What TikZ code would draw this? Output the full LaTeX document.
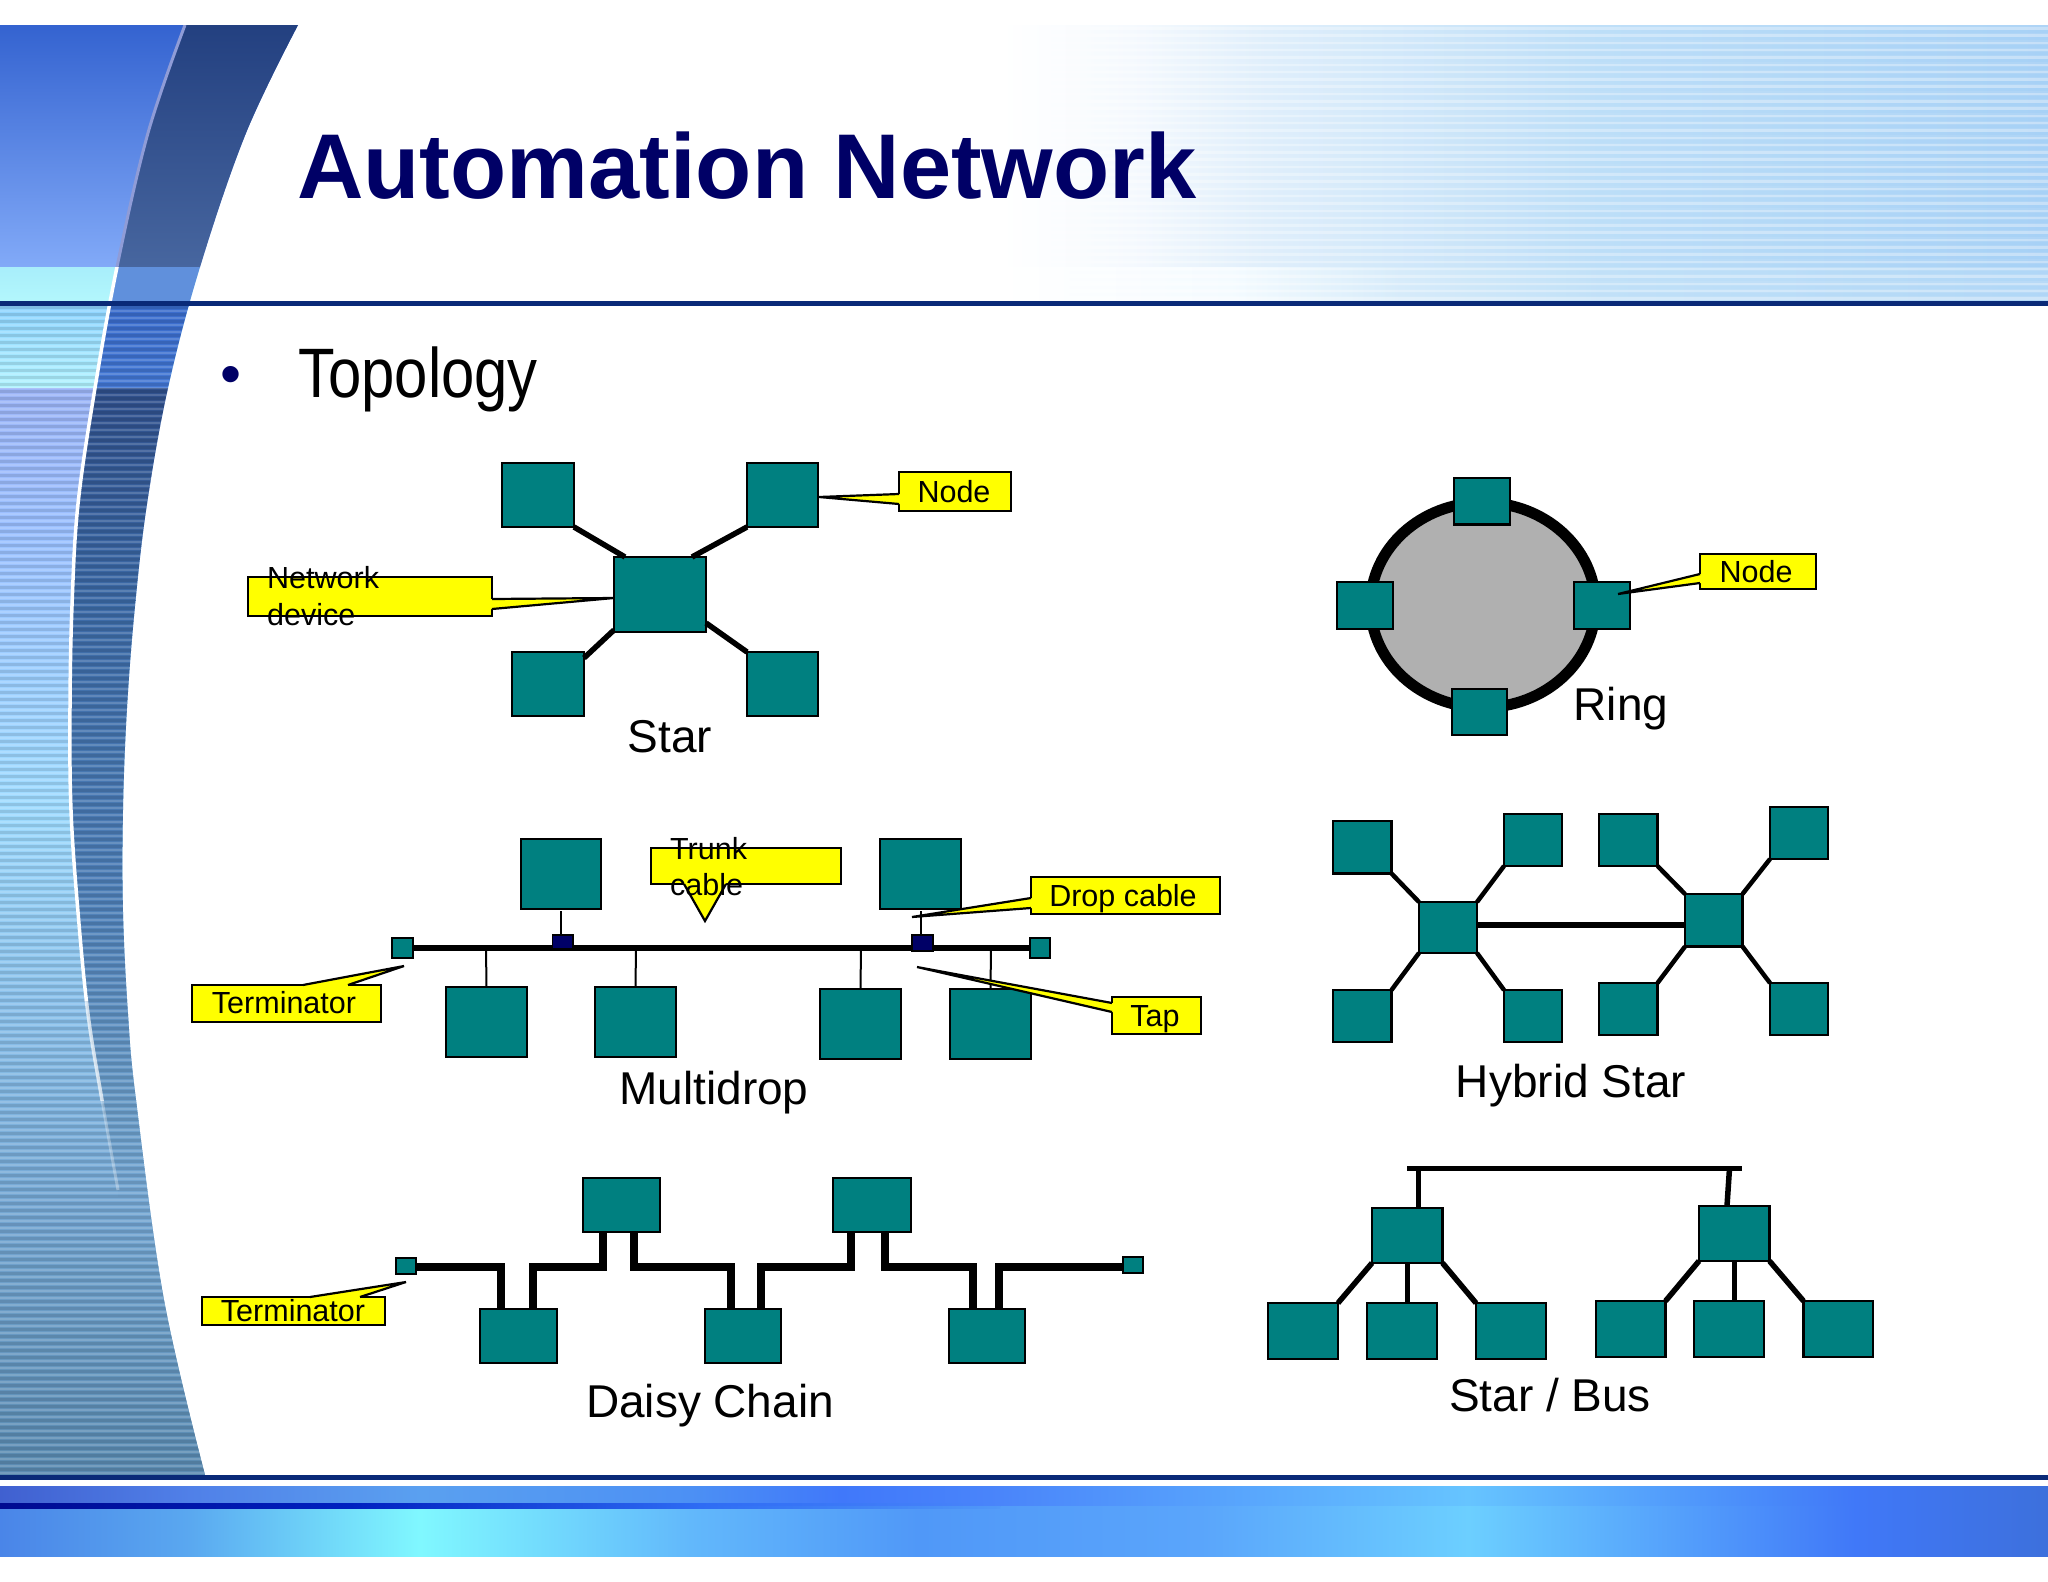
\documentclass[tikz,border=0pt]{standalone}
\usepackage{fontspec}
\setmainfont{Liberation Sans}
\usetikzlibrary{calc,shapes.geometric}
\definecolor{teal1}{HTML}{008080}
\definecolor{navy1}{HTML}{000066}
\definecolor{rule1}{HTML}{0A2A78}
\definecolor{yel}{HTML}{FFFF00}
\tikzset{
  box/.style={draw=black,fill=teal1,line width=2.5pt,inner sep=0pt,outer sep=0pt},
  tapbox/.style={box,fill=navy1},
  callbox/.style={draw=black,fill=yel,line width=2.5pt,inner sep=0pt,outer sep=0pt},
  callline/.style={draw=black,line width=2.2pt,line join=miter},
  link/.style={draw=black,line width=5.5pt},
  hlink/.style={draw=black,line width=4.5pt},
  drop/.style={draw=black,line width=2pt},
  chain/.style={draw=black,line width=8pt,line join=miter},
  caption/.style={anchor=base,inner sep=0pt,font=\fontsize{46}{50}\selectfont},
  calltext/.style={anchor=base,inner sep=0pt,font=\fontsize{30.5}{36}\selectfont},
}
\newcommand{\tbox}[6][box]{\node[#1,minimum width={(#5-#3)*1pt},minimum height={(#6-#4)*1pt}] (#2) at ({(#3+#5)/2},{(#4+#6)/2}) {};}
\newcommand{\vs}[6]{\shade[top color=#5,bottom color=#6] (#1,#2) rectangle (#3,#4);}
\newcommand{\hsh}[6]{\shade[left color=#5,right color=#6] (#1,#2) rectangle (#3,#4);}
\newcommand{\callptr}[5]{%
  \coordinate (#1a) at (#2); \coordinate (#1t) at (#3); \coordinate (#1b) at (#4);
  \fill[yel] (#1a) -- (#1t) -- (#1b) -- ($(#1b)+(#5)$) -- ($(#1a)+(#5)$) -- cycle;
  \draw[callline] (#1a) -- (#1t) -- (#1b);}
\def\outerpts{(298,25) (246,133) (200,267) (168,388) (147,504) (135,606) (127,708) (123,810) (123,912) (128,1014) (136,1100) (164,1300) (205,1475)}
\def\innerpts{(185,25) (148,133) (117,267) (95,388) (78,504) (72,606) (70,708) (71,810) (78,912) (88,1014) (102,1100) (118,1190)}
\begin{document}
\begin{tikzpicture}[x=1pt,y=-1pt]
\useasboundingbox (0,0) rectangle (2048,1582);
\fill[white] (0,0) rectangle (2048,1582);
% --- header band
\definecolor{h1}{HTML}{F6FAFE}\definecolor{h2}{HTML}{E0EFFB}\definecolor{h3}{HTML}{BFDFF8}\definecolor{h4}{HTML}{AED4F6}
\definecolor{k1}{HTML}{F6FCFF}\definecolor{k2}{HTML}{D8ECFA}\definecolor{k3}{HTML}{C4E2F8}\definecolor{k4}{HTML}{B8DAF7}
\hsh{1000}{25}{1130}{268}{white}{h1}
\hsh{1130}{25}{1267}{268}{h1}{h2}
\hsh{1267}{25}{1600}{268}{h2}{h3}
\hsh{1600}{25}{2048}{268}{h3}{h4}
\hsh{1000}{267}{1230}{301}{white}{k1}
\hsh{1230}{267}{1400}{301}{k1}{k2}
\hsh{1400}{267}{1600}{301}{k2}{k3}
\hsh{1600}{267}{2048}{301}{k3}{k4}
\foreach \y in {27,34.3,...,298} {
  \fill[white,opacity=.3] (1000,\y) rectangle (2048,\y+2.5);
  \shade[left color=white,right color=blue!45!cyan!70!white,opacity=.07] (1050,\y+3.5) rectangle (2048,\y+5.5);
}
% --- left swoosh
\begin{scope}
  \clip plot[smooth,tension=.6] coordinates {\outerpts} -- (0,1475) -- (0,25) -- cycle;
  \definecolor{a1}{HTML}{3463D0}\definecolor{a2}{HTML}{82AAF8}
  \definecolor{a3}{HTML}{A8EEFB}\definecolor{a4}{HTML}{B4F8FC}
  \definecolor{a5}{HTML}{8ED4FF}\definecolor{a6}{HTML}{B4F4FF}
  \definecolor{a7}{HTML}{9EB6F8}\definecolor{a8}{HTML}{9CC0FF}
  \definecolor{a9}{HTML}{A0DCFF}\definecolor{a10}{HTML}{8CC2EC}
  \definecolor{a11}{HTML}{76A8D4}\definecolor{a12}{HTML}{5A8AB0}
  \vs{0}{25}{320}{267.5}{a1}{a2}
  \vs{0}{267}{320}{306}{a3}{a4}
  \vs{0}{306}{320}{388.5}{a5}{a6}
  \vs{0}{388}{320}{520.5}{a7}{a8}
  \vs{0}{520}{320}{800.5}{a8}{a9}
  \vs{0}{800}{320}{1000.5}{a9}{a10}
  \vs{0}{1000}{320}{1200.5}{a10}{a11}
  \vs{0}{1200}{320}{1476}{a11}{a12}
  \begin{scope}
    \clip plot[smooth,tension=.6] coordinates {\innerpts} -- (118,1476) -- (500,1476) -- (500,25) -- cycle;
    \definecolor{d1}{HTML}{234080}\definecolor{d2}{HTML}{47669F}
    \definecolor{d3}{HTML}{6090DC}
    \definecolor{d4}{HTML}{3A6CCC}\definecolor{d5}{HTML}{4478D4}
    \definecolor{d6}{HTML}{30508C}\definecolor{d7}{HTML}{3C6AA6}
    \definecolor{d8}{HTML}{4F80B8}\definecolor{d9}{HTML}{6A9CC8}
    \vs{0}{25}{320}{267.5}{d1}{d2}
    \vs{0}{267}{320}{306}{d3}{d3}
    \vs{0}{306}{320}{388.5}{d4}{d5}
    \vs{0}{388}{320}{600.5}{d6}{d7}
    \vs{0}{600}{320}{900.5}{d7}{d8}
    \vs{0}{900}{320}{1100.5}{d8}{d9}
    \vs{0}{1100}{320}{1200.5}{d9}{a11}
    \vs{0}{1200}{320}{1476}{a11}{a12}
  \end{scope}
  \foreach \y in {306,313,...,1475} {
    \fill[black,opacity=.11] (0,\y) rectangle (320,\y+3);
    \fill[white,opacity=.16] (0,\y+4) rectangle (320,\y+5.5);
  }
  \begin{scope}
    \clip (0,25) rectangle (320,267);
    \draw[line width=3pt,color=cyan!30!blue!45!white] plot[smooth,tension=.6] coordinates {\innerpts};
  \end{scope}
  \begin{scope}
    \clip (0,267) rectangle (320,1000);
    \draw[line width=3.5pt,color=white] plot[smooth,tension=.6] coordinates {\innerpts};
  \end{scope}
  \begin{scope}
    \clip (0,1000) rectangle (320,1100);
    \draw[line width=3.5pt,color=white,opacity=.7] plot[smooth,tension=.6] coordinates {\innerpts};
  \end{scope}
  \begin{scope}
    \clip (0,1100) rectangle (320,1190);
    \draw[line width=3pt,color=white,opacity=.3] plot[smooth,tension=.6] coordinates {\innerpts};
  \end{scope}
\end{scope}
% --- rules
\fill[rule1] (0,301) rectangle (2048,306);
\fill[rule1] (0,1475) rectangle (2048,1480);
% --- footer band
\definecolor{u0}{HTML}{4060D0}\definecolor{u1}{HTML}{5080E8}\definecolor{u2}{HTML}{5AA0F0}
\definecolor{u3}{HTML}{4C90F4}\definecolor{u4}{HTML}{4078FA}\definecolor{u5}{HTML}{4A85FA}
\definecolor{u6}{HTML}{66C4FF}\definecolor{u7}{HTML}{4078F8}\definecolor{u8}{HTML}{3D70DC}
\hsh{0}{1486}{190.5}{1506}{u0}{u1}
\hsh{190}{1486}{420.5}{1506}{u1}{u2}
\hsh{420}{1486}{690.5}{1506}{u2}{u3}
\hsh{690}{1486}{840.5}{1506}{u3}{u4}
\hsh{840}{1486}{1000.5}{1506}{u4}{u5}
\hsh{1000}{1486}{1468.5}{1506}{u5}{u6}
\hsh{1468}{1486}{1855.5}{1506}{u6}{u7}
\hsh{1855}{1486}{2048}{1506}{u7}{u8}
\definecolor{l0}{HTML}{4A85E8}\definecolor{l1}{HTML}{5AA8F0}\definecolor{l2}{HTML}{80F8FF}
\definecolor{l3}{HTML}{62B8FB}\definecolor{l4}{HTML}{5098F8}\definecolor{l5}{HTML}{5AA5FB}
\definecolor{l6}{HTML}{6CCFFF}
\hsh{0}{1506}{190.5}{1556}{l0}{l1}
\hsh{190}{1506}{420.5}{1556}{l1}{l2}
\hsh{420}{1506}{690.5}{1556}{l2}{l3}
\hsh{690}{1506}{918.5}{1556}{l3}{l4}
\hsh{918}{1506}{1200.5}{1556}{l4}{l5}
\hsh{1200}{1506}{1468.5}{1556}{l5}{l6}
\hsh{1468}{1506}{1855.5}{1556}{l6}{u7}
\hsh{1855}{1506}{2048}{1556}{u7}{u8}
\definecolor{m0}{HTML}{000A90}\definecolor{m1}{HTML}{0020C0}\definecolor{m2}{HTML}{2E6CF4}
\hsh{0}{1503}{350.5}{1508.5}{m0}{m1}
\hsh{350}{1503}{700.5}{1508.5}{m1}{m2}
\hsh{700}{1503}{1000}{1506}{m2}{u5}
\hsh{700}{1506}{1000}{1508.5}{m2}{l4}
% --- heading
\node[anchor=base west,inner sep=0pt,text=navy1,font=\fontsize{92}{100}\selectfont\bfseries] (title) at (297,198) {Automation Network};
\node[anchor=base,inner sep=0pt,text=navy1,font=\fontsize{60}{60}\selectfont] (bullet) at (231,394) {•};
\node[anchor=base west,inner sep=0pt,font=\fontsize{70}{74}\selectfont] (topology) at (298,397) {\scalebox{.855}[1]{Topology}};
% --- star
\tbox{stTL}{502}{463}{574}{527}
\tbox{stTR}{747}{463}{818}{527}
\tbox{stC}{614}{557}{706}{632}
\tbox{stBL}{512}{652}{584}{716}
\tbox{stBR}{747}{652}{818}{716}
\draw[link] (stTL.south east) -- ([xshift=11pt]stC.north west);
\draw[link] (stTR.south west) -- ([xshift=-14pt]stC.north east);
\draw[link] ([yshift=2pt]stC.south west) -- ([yshift=-6pt]stBL.north east);
\draw[link] ([yshift=9pt]stC.south east) -- (stBR.north west);
\node[caption] (stL) at (670,752) {Star};
% --- ring
\node[ellipse,draw=black,fill=black!31,line width=11pt,minimum width=225pt,minimum height=205pt,inner sep=0pt,outer sep=0pt] (ring) at (1483,605) {};
\tbox{riT}{1454}{478}{1510}{524.5}
\tbox{riL}{1337}{582}{1393}{629}
\tbox{riR}{1574}{582}{1630}{629}
\tbox{riB}{1452}{689}{1507}{735}
\node[caption] (riLab) at (1621,720) {Ring};
% --- multidrop
\tbox{mdU1}{521}{839}{601}{909}
\tbox{mdU2}{880}{839}{961}{909}
\tbox{mdD1}{446}{987}{527}{1057}
\tbox{mdD2}{595}{987}{676}{1057}
\tbox{mdD3}{820}{989}{901}{1059}
\tbox{mdD4}{950}{989}{1031}{1059}
\tbox[box,line width=2pt]{mdTL}{392}{938}{413}{958}
\tbox[box,line width=2pt]{mdTR}{1030}{938}{1050}{958}
\draw[line width=6pt] (mdTL.east) -- (mdTR.west);
\tbox[tapbox,line width=1.5pt]{mdP1}{552.5}{935}{573}{949}
\tbox[tapbox,line width=1.5pt]{mdP2}{912}{935}{933}{951}
\draw[drop] ([yshift=-2pt]mdU1.south) -- (mdU1.south |- mdP1.north);
\draw[drop] ([yshift=-2pt]mdU2.south) -- (mdU2.south |- mdP2.north);
\draw[drop] (486,948) coordinate (mdc1) -- (mdD1.north);
\draw[drop] (636,948) coordinate (mdc2) -- (mdD2.north);
\draw[drop] (861,948) coordinate (mdc3) -- (mdD3.north);
\draw[drop] (991,948) coordinate (mdc4) -- (mdD4.north);
\node[caption] (mdL) at (714,1104) {Multidrop};
% --- hybrid star
\tbox{hyC1}{1419}{902}{1477}{953}
\tbox{hyTL}{1333}{821}{1391.5}{873.5}
\tbox{hyTR}{1504}{814}{1562}{866}
\tbox{hyBL}{1333}{990}{1391.5}{1042}
\tbox{hyBR}{1504}{990}{1562}{1042}
\tbox{hyC2}{1685}{894}{1742.5}{946.5}
\tbox{hyTL2}{1599}{814}{1657.5}{866}
\tbox{hyTR2}{1770}{807}{1828}{859}
\tbox{hyBL2}{1599}{983}{1657.5}{1035}
\tbox{hyBR2}{1770}{983}{1828}{1035}
\foreach \a/\b/\c/\d in {hyTL/south east/hyC1/north west,hyTR/south west/hyC1/north east,hyBL/north east/hyC1/south west,hyBR/north west/hyC1/south east,hyTL2/south east/hyC2/north west,hyTR2/south west/hyC2/north east,hyBL2/north east/hyC2/south west,hyBR2/north west/hyC2/south east}
  \draw[hlink] (\a.\b) -- (\c.\d);
\draw[line width=6pt] ([yshift=2.5pt]hyC1.east) -- ([yshift=-4.75pt]hyC2.west);
\node[caption] (hyL) at (1571,1097) {Hybrid Star};
% --- daisy chain
\tbox{dcU1}{583}{1178}{660}{1232}
\tbox{dcU2}{833}{1178}{911}{1232}
\tbox{dcD1}{480}{1309}{557}{1363}
\tbox{dcD2}{705}{1309}{781}{1363}
\tbox{dcD3}{949}{1309}{1025}{1363}
\tbox[box,line width=2pt]{dcT1}{396}{1258}{416}{1274}
\tbox[box,line width=2pt]{dcT2}{1123}{1257}{1143}{1273}
\coordinate (dc1) at (501,1267); \coordinate (dc2) at (533,1267); \coordinate (dc3) at (603,1267);
\coordinate (dc4) at (634,1267); \coordinate (dc5) at (731,1267); \coordinate (dc6) at (761,1267);
\coordinate (dc7) at (851,1267); \coordinate (dc8) at (885,1267); \coordinate (dc9) at (973,1267); \coordinate (dc10) at (999,1267);
\draw[chain] (dc1 -| dcT1.east) -- (dc1) -- (dc1 |- dcD1.north);
\draw[chain] (dc2 |- dcD1.north) -- (dc2) -- (dc3) -- (dc3 |- dcU1.south);
\draw[chain] (dc4 |- dcU1.south) -- (dc4) -- (dc5) -- (dc5 |- dcD2.north);
\draw[chain] (dc6 |- dcD2.north) -- (dc6) -- (dc7) -- (dc7 |- dcU2.south);
\draw[chain] (dc8 |- dcU2.south) -- (dc8) -- (dc9) -- (dc9 |- dcD3.north);
\draw[chain] (dc10 |- dcD3.north) -- (dc10) -- (dc10 -| dcT2.west);
\node[caption] (dcL) at (710,1417) {Daisy Chain};
% --- star / bus
\tbox{sbC1}{1372}{1208}{1442.5}{1263}
\tbox{sbC2}{1699}{1206}{1769.5}{1261}
\tbox{sb1}{1268}{1303}{1338}{1359}
\tbox{sb2}{1367}{1303}{1437}{1359}
\tbox{sb3}{1476}{1303}{1546}{1359}
\tbox{sb4}{1596}{1301}{1665.5}{1357}
\tbox{sb5}{1694}{1301}{1764}{1357}
\tbox{sb6}{1803.5}{1301}{1873}{1357}
\coordinate (sbA) at (1407,1168.5); \coordinate (sbB) at (1742,1168.5);
\draw[link] (sbA) -- (sbB);
\draw[link] (1418.5,1168.5) coordinate (sbq) -- (sbq |- sbC1.north);
\draw[link] (1729.5,1168.5) coordinate (sbr) -- (1727,1206) coordinate (sbs);
\draw[link] (sbC1.south west) -- (sb1.north east);
\draw[link] (sbC1.south) -- (sbC1.south |- sb2.north);
\draw[link] (sbC1.south east) -- (sb3.north west);
\draw[link] (sbC2.south west) -- (sb4.north east);
\draw[link] (sbC2.south) -- (sbC2.south |- sb5.north);
\draw[link] (sbC2.south east) -- (sb6.north west);
\node[caption] (sbL) at (1550,1411) {Star / Bus};
% --- callouts
\tbox[callbox]{cNode}{899}{472}{1011}{511}
\callptr{pNode}{899,494}{819,497}{899,504}{3,0}
\node[calltext] (tNode) at (954,502) {Node};
\tbox[callbox]{cDev}{248}{577}{492}{616}
\callptr{pDev}{492,599}{614,598}{492,609}{-3,0}
\node[calltext,anchor=base west] (tDev1) at (267,588) {Network};
\node[calltext,anchor=base west] (tDev2) at (267,625) {device};
\tbox[callbox]{cRing}{1700}{554}{1816}{589}
\callptr{pRing}{1700,574}{1618,594}{1700,583}{3,0}
\node[calltext] (tRing) at (1756,582) {Node};
\tbox[callbox]{cTrunk}{651}{848}{841}{884}
\callptr{pTrunk}{684,884}{705,921}{726,884}{0,-3}
\node[calltext,anchor=base west] (tTr1) at (670,859) {Trunk};
\node[calltext,anchor=base west] (tTr2) at (670,895) {cable};
\tbox[callbox]{cDrop}{1031}{877}{1220}{914}
\callptr{pDrop}{1031,898}{912,917}{1031,908}{3,0}
\node[calltext] (tDrop) at (1123,906) {Drop cable};
\tbox[callbox]{cTap}{1112}{997}{1201}{1034}
\callptr{pTap}{1112,1003}{917,967}{1112,1012}{3,0}
\node[calltext] (tTap) at (1155,1026) {Tap};
\tbox[callbox]{cTm1}{192}{985}{381}{1022}
\callptr{pTm1}{303,985}{404,966}{348,985}{0,3}
\node[calltext] (tTm1) at (284,1013) {Terminator};
\tbox[callbox]{cTm2}{202}{1297}{385}{1325}
\callptr{pTm2}{310,1297}{406,1282}{360,1297}{0,3}
\node[calltext] (tTm2) at (293,1321) {Terminator};
\end{tikzpicture}
\end{document}
